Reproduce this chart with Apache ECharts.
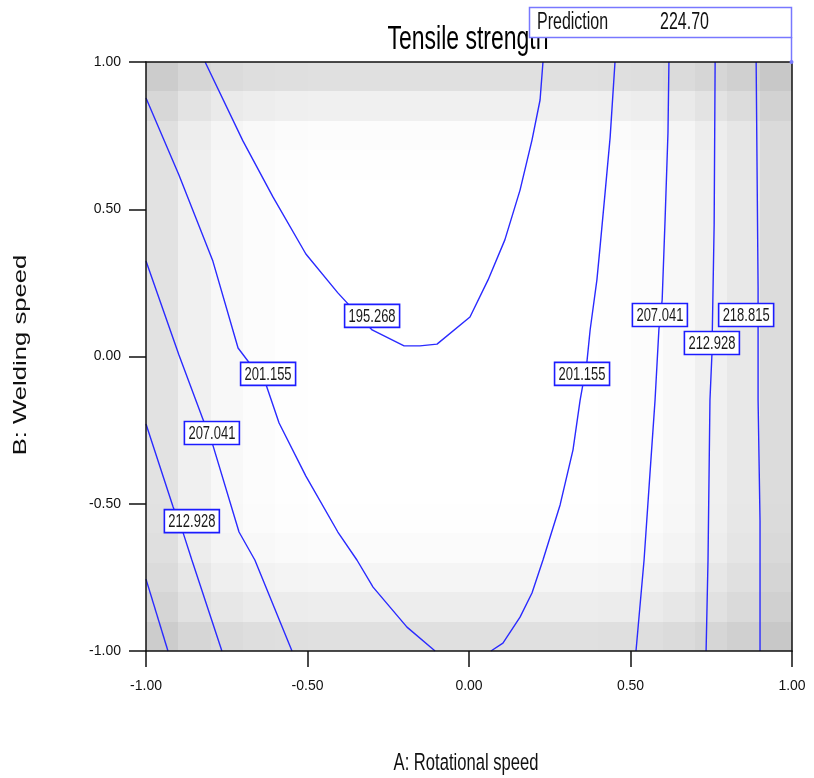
<!DOCTYPE html>
<html>
<head>
<meta charset="utf-8">
<script src="https://cdn.jsdelivr.net/npm/echarts@6/dist/echarts.min.js"></script>
<style>
  html, body { margin: 0; padding: 0; background: #fff; }
  #chart { width: 814px; height: 778px; }
</style>
</head>
<body>
<div id="chart"></div>
<script>
// Coded factors: A = rotational speed, B = welding speed, both on [-1, 1]
const tickValues = [-1.0, -0.5, 0.0, 0.5, 1.0];
const cellEdges = [-1.0, -0.9, -0.8, -0.7, -0.6, -0.5, -0.4, -0.3, -0.2, -0.1, 0.0,
                   0.1, 0.2, 0.3, 0.4, 0.5, 0.6, 0.7, 0.8, 0.9, 1.0];

// Design-space shading, darkness per cell (0 = white), rows from B = 1 down to B = -1
const shadeRows = [
  [51,41,36,33,32,31,31,31,31,31,31,31,31,31,32,33,36,41,47,55],
  [40,28,21,18,16,15,15,15,15,15,15,15,15,15,16,18,21,28,35,45],
  [31,18,10, 6, 4, 3, 3, 3, 3, 3, 3, 3, 3, 3, 4, 6,10,18,25,37],
  [30,16, 8, 4, 2, 1, 1, 1, 1, 1, 1, 1, 1, 1, 2, 4, 8,16,24,36],
  [29,15, 7, 3, 1, 0, 0, 0, 0, 0, 0, 0, 0, 0, 1, 3, 7,15,23,35],
  [29,15, 7, 3, 1, 0, 0, 0, 0, 0, 0, 0, 0, 0, 1, 3, 7,15,23,35],
  [29,15, 7, 3, 1, 0, 0, 0, 0, 0, 0, 0, 0, 0, 1, 3, 7,15,23,35],
  [29,15, 7, 3, 1, 0, 0, 0, 0, 0, 0, 0, 0, 0, 1, 3, 7,15,23,35],
  [29,15, 7, 3, 1, 0, 0, 0, 0, 0, 0, 0, 0, 0, 1, 3, 7,15,23,35],
  [29,15, 7, 3, 1, 0, 0, 0, 0, 0, 0, 0, 0, 0, 1, 3, 7,15,23,35],
  [29,15, 7, 3, 1, 0, 0, 0, 0, 0, 0, 0, 0, 0, 1, 3, 7,15,23,35],
  [29,15, 7, 3, 1, 0, 0, 0, 0, 0, 0, 0, 0, 0, 1, 3, 7,15,23,35],
  [29,15, 7, 3, 1, 0, 0, 0, 0, 0, 0, 0, 0, 0, 1, 3, 7,15,23,35],
  [29,15, 7, 3, 1, 0, 0, 0, 0, 0, 0, 0, 0, 0, 1, 3, 7,15,23,35],
  [29,15, 7, 3, 1, 0, 0, 0, 0, 0, 0, 0, 0, 0, 1, 3, 7,15,23,35],
  [30,16, 8, 4, 2, 1, 1, 1, 1, 1, 1, 1, 1, 1, 2, 4, 8,16,24,36],
  [32,18,11, 7, 5, 4, 4, 4, 4, 4, 4, 4, 4, 4, 5, 7,11,18,26,38],
  [36,24,16,13,11,10,10,10,10,10,10,10,10,10,11,13,16,24,31,42],
  [42,30,24,20,19,18,18,18,18,18,18,18,18,18,19,20,24,30,37,47],
  [51,41,36,33,32,31,31,31,31,31,31,31,31,31,32,33,36,41,47,55]
];

// Contour levels of tensile strength
const levels = [195.268, 201.155, 207.041, 212.928, 218.815];

// Contour paths as [A, B] points
const contour195 = [[-0.817,1.0],[-0.700,0.732],[-0.607,0.542],[-0.505,0.348],[-0.406,0.216],
  [-0.300,0.090],[-0.201,0.036],[-0.152,0.036],[-0.099,0.042],[0.003,0.134],[0.059,0.260],
  [0.111,0.396],[0.158,0.565],[0.195,0.735],[0.220,0.871],[0.229,1.0]];
const contour201Left = [[-1.0,0.878],[-0.898,0.616],[-0.793,0.324],[-0.715,0.029],[-0.628,-0.097],
  [-0.588,-0.226],[-0.505,-0.406],[-0.406,-0.596],[-0.347,-0.691],[-0.297,-0.783],[-0.192,-0.919],[-0.105,-1.0]];
const contour201Right = [[0.452,1.0],[0.437,0.745],[0.421,0.552],[0.406,0.375],[0.396,0.260],
  [0.375,0.090],[0.365,-0.019],[0.344,-0.148],[0.322,-0.317],[0.282,-0.504],[0.229,-0.691],
  [0.195,-0.803],[0.158,-0.885],[0.105,-0.973],[0.068,-1.0]];
const contour207Left = [[-1.0,0.324],[-0.898,0.005],[-0.824,-0.212],[-0.793,-0.301],[-0.712,-0.596],
  [-0.663,-0.691],[-0.548,-1.0]];
const contour207Right = [[0.619,1.0],[0.616,0.759],[0.607,0.463],[0.598,0.192],[0.588,0.093],
  [0.576,-0.148],[0.560,-0.402],[0.542,-0.691],[0.517,-1.0]];
const contour213Left = [[-1.0,-0.229],[-0.916,-0.511],[-0.885,-0.599],[-0.858,-0.691],[-0.765,-1.0]];
const contour213Right = [[0.762,1.0],[0.759,0.450],[0.752,0.005],[0.746,-0.148],[0.740,-0.691],[0.734,-1.0]];
const contour219Left = [[-1.0,-0.756],[-0.932,-1.0]];
const contour219Right = [[0.889,1.0],[0.892,0.616],[0.895,0.233],[0.895,-0.148],[0.901,-0.559],[0.901,-1.0]];

// Contour label anchors: [A, B, level]
const contourLabels = [
  [-0.300, 0.138, 195.268],
  [-0.622, -0.059, 201.155],
  [0.350, -0.059, 201.155],
  [-0.796, -0.260, 207.041],
  [0.591, 0.141, 207.041],
  [-0.858, -0.559, 212.928],
  [0.752, 0.046, 212.928],
  [0.858, 0.141, 218.815]
];

const predictionLabel = 'Prediction';
const predictionValue = '224.70';

const FONT = '"Liberation Sans", Arial, sans-serif';
const LINE_BLUE = '#2a2aff';
const STRETCH = 1.45;

const cells = [];
shadeRows.forEach((row, i) => {
  row.forEach((v, j) => {
    cells.push([cellEdges[j], cellEdges[j + 1], cellEdges[20 - i], cellEdges[19 - i], v]);
  });
});

function renderCell(params, api) {
  const a = api.coord([api.value(0), api.value(2)]);
  const b = api.coord([api.value(1), api.value(3)]);
  const x0 = Math.round(a[0]), y0 = Math.round(a[1]);
  const x1 = Math.round(b[0]), y1 = Math.round(b[1]);
  const g = 255 - api.value(4);
  return {
    type: 'rect',
    shape: { x: x0, y: y0, width: x1 - x0, height: y1 - y0 },
    style: { fill: 'rgb(' + g + ',' + g + ',' + g + ')' }
  };
}

function renderContourLabel(params, api) {
  const p = api.coord([api.value(0), api.value(1)]);
  const txt = api.value(2).toFixed(3);
  return {
    type: 'group',
    x: p[0], y: p[1],
    children: [
      { type: 'rect', shape: { x: -27.5, y: -11.5, width: 55, height: 23 },
        style: { fill: '#ffffff', stroke: '#1c1cff', lineWidth: 1.6 } },
      { type: 'text', scaleY: STRETCH,
        style: { text: txt, x: 0, y: 0.5, align: 'center', verticalAlign: 'middle',
                 font: '13px ' + FONT, fill: '#1a1a1a' } }
    ]
  };
}

function contourSeries(name, data) {
  return {
    name: name, type: 'line', data: data, showSymbol: false, symbol: 'none',
    smooth: false, z: 3, silent: true,
    lineStyle: { color: LINE_BLUE, width: 1.4 }
  };
}

const chart = echarts.init(document.getElementById('chart'), null, { renderer: 'canvas' });

const axisLineStyle = { color: '#111', width: 1.5 };

chart.setOption({
  animation: false,
  backgroundColor: '#ffffff',
  grid: { left: 146, top: 62, width: 646, height: 589, show: false },
  xAxis: [
    {
      type: 'value', min: -1, max: 1, interval: 0.5, position: 'bottom', z: 10,
      axisLine: { show: true, onZero: false, lineStyle: axisLineStyle },
      axisTick: { show: true, length: 16, lineStyle: axisLineStyle },
      axisLabel: { margin: 28, fontFamily: FONT, fontSize: 14, color: '#111',
                   formatter: v => v.toFixed(2) },
      splitLine: { show: false }
    },
    {
      type: 'value', min: -1, max: 1, position: 'top', z: 10,
      axisLine: { show: true, onZero: false, lineStyle: axisLineStyle },
      axisTick: { show: false }, axisLabel: { show: false }, splitLine: { show: false }
    }
  ],
  yAxis: [
    {
      type: 'value', min: -1, max: 1, interval: 0.5, position: 'left', z: 10,
      axisLine: { show: true, onZero: false, lineStyle: axisLineStyle },
      axisTick: { show: true, length: 17, lineStyle: axisLineStyle },
      axisLabel: { margin: 25, fontFamily: FONT, fontSize: 14, color: '#111',
                   formatter: v => v.toFixed(2) },
      splitLine: { show: false }
    },
    {
      type: 'value', min: -1, max: 1, position: 'right', z: 10,
      axisLine: { show: true, onZero: false, lineStyle: axisLineStyle },
      axisTick: { show: false }, axisLabel: { show: false }, splitLine: { show: false }
    }
  ],
  series: [
    {
      name: 'shading', type: 'custom', renderItem: renderCell, data: cells,
      encode: { x: [0, 1], y: [2, 3] }, z: 1, silent: true
    },
    contourSeries(String(levels[0]), contour195),
    contourSeries(String(levels[1]), contour201Left),
    contourSeries(String(levels[1]), contour201Right),
    contourSeries(String(levels[2]), contour207Left),
    contourSeries(String(levels[2]), contour207Right),
    contourSeries(String(levels[3]), contour213Left),
    contourSeries(String(levels[3]), contour213Right),
    contourSeries(String(levels[4]), contour219Left),
    contourSeries(String(levels[4]), contour219Right),
    {
      name: 'labels', type: 'custom', renderItem: renderContourLabel, data: contourLabels,
      encode: { x: 0, y: 1 }, z: 5, silent: true
    }
  ],
  graphic: [
    { type: 'text', x: 468, y: 40, scaleY: STRETCH, z: 20,
      style: { text: 'Tensile strength', font: '23px ' + FONT, align: 'center',
               verticalAlign: 'middle', fill: '#000' } },
    { type: 'rect', z: 21, shape: { x: 529.5, y: 7.5, width: 262, height: 30 },
      style: { fill: '#ffffff', stroke: '#7878ff', lineWidth: 1.5 } },
    { type: 'line', z: 21, shape: { x1: 791.5, y1: 37, x2: 791.5, y2: 62 },
      style: { stroke: '#7878ff', lineWidth: 1.5 } },
    { type: 'circle', z: 21, shape: { cx: 791.5, cy: 62, r: 2 }, style: { fill: '#7878ff' } },
    { type: 'text', x: 537, y: 23, scaleY: STRETCH, z: 22,
      style: { text: predictionLabel, font: '16px ' + FONT, align: 'left',
               verticalAlign: 'middle', fill: '#111' } },
    { type: 'text', x: 660, y: 23, scaleY: STRETCH, z: 22,
      style: { text: predictionValue, font: '16px ' + FONT, align: 'left',
               verticalAlign: 'middle', fill: '#111' } },
    { type: 'text', x: 466, y: 763, scaleY: STRETCH, z: 20,
      style: { text: 'A: Rotational speed', font: '16.6px ' + FONT, align: 'center',
               verticalAlign: 'middle', fill: '#111' } },
    { type: 'text', x: 21, y: 355, rotation: Math.PI / 2, scaleX: STRETCH, z: 20,
      style: { text: 'B: Welding speed', font: '17.7px ' + FONT, align: 'center',
               verticalAlign: 'middle', fill: '#111' } }
  ]
});
</script>
</body>
</html>
